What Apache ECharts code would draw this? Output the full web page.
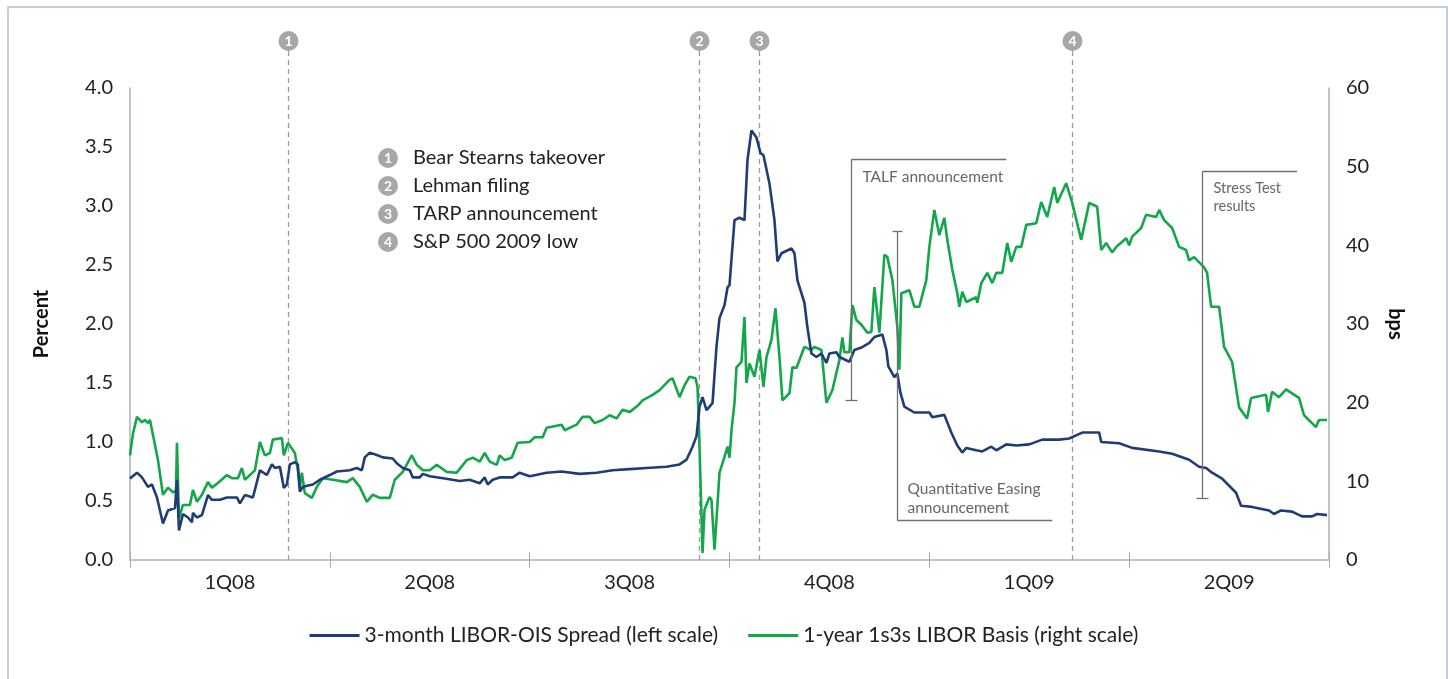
<!DOCTYPE html>
<html>
<head>
<meta charset="utf-8">
<script src="https://cdn.jsdelivr.net/npm/echarts@6/dist/echarts.min.js"></script>
<style>
  html, body { margin: 0; padding: 0; background: #fff; }
  #main { width: 1448px; height: 679px; }
</style>
</head>
<body>
<div id="main"></div>
<script>
// quarters shown on the x axis
const quarters = ['1Q08', '2Q08', '3Q08', '4Q08', '1Q09', '2Q09'];

// time is counted in quarters since 1 Jan 2008 (0 = start of 1Q08, 6 = end of 2Q09)
const tSpread = [0, .035, .06, .09, .11, .135, .165, .19, .225, .235, .245, .265, .29, .31, .315, .335, .36, .39, .41, .45,
  .485, .535, .55, .575, .615, .65, .685, .71, .725, .75, .77, .785, .8, .825, .84, .85, .865, .915, .95, 1.0,
  1.035, 1.1, 1.135, 1.16, 1.175, 1.2, 1.235, 1.265, 1.315, 1.335, 1.365, 1.4, 1.415, 1.45, 1.465, 1.5, 1.575, 1.65, 1.7, 1.75,
  1.775, 1.79, 1.815, 1.85, 1.915, 1.95, 2.0, 2.085, 2.16, 2.25, 2.335, 2.415, 2.5, 2.585, 2.685, 2.75, 2.785, 2.815, 2.835, 2.85,
  2.865, 2.885, 2.915, 2.935, 2.95, 2.975, 2.99, 3.0, 3.025, 3.05, 3.075, 3.09, 3.11, 3.135, 3.155, 3.17, 3.2, 3.225, 3.24, 3.26,
  3.31, 3.325, 3.34, 3.375, 3.39, 3.41, 3.435, 3.46, 3.485, 3.5, 3.535, 3.55, 3.6, 3.625, 3.66, 3.7, 3.725, 3.765, 3.785, 3.795,
  3.825, 3.84, 3.855, 3.875, 3.925, 4.0, 4.015, 4.075, 4.11, 4.14, 4.165, 4.185, 4.235, 4.265, 4.31, 4.335, 4.385, 4.435, 4.5, 4.565,
  4.65, 4.7, 4.765, 4.85, 4.86, 4.95, 5.015, 5.15, 5.215, 5.3, 5.35, 5.385, 5.415, 5.465, 5.535, 5.56, 5.615, 5.7, 5.725, 5.76,
  5.815, 5.865, 5.915, 5.94, 5.99];
// 3-month LIBOR-OIS spread, percent
const spread = [0.69, 0.74, 0.70, 0.62, 0.64, 0.53, 0.31, 0.42, 0.44, 0.68, 0.25, 0.39, 0.36, 0.32, 0.40, 0.36, 0.38, 0.55, 0.51, 0.51,
  0.53, 0.53, 0.48, 0.55, 0.53, 0.76, 0.72, 0.81, 0.78, 0.79, 0.61, 0.64, 0.81, 0.83, 0.81, 0.58, 0.62, 0.64, 0.68, 0.72,
  0.75, 0.76, 0.78, 0.76, 0.87, 0.91, 0.89, 0.87, 0.86, 0.82, 0.78, 0.76, 0.70, 0.70, 0.73, 0.71, 0.69, 0.67, 0.68, 0.65,
  0.70, 0.64, 0.68, 0.70, 0.70, 0.74, 0.71, 0.74, 0.75, 0.73, 0.74, 0.76, 0.77, 0.78, 0.79, 0.81, 0.85, 0.96, 1.05, 1.30,
  1.38, 1.27, 1.33, 1.81, 2.05, 2.16, 2.31, 2.33, 2.88, 2.90, 2.88, 3.39, 3.64, 3.58, 3.45, 3.43, 3.19, 2.88, 2.53, 2.60,
  2.64, 2.60, 2.37, 2.18, 1.97, 1.75, 1.72, 1.75, 1.67, 1.75, 1.76, 1.72, 1.68, 1.78, 1.80, 1.84, 1.89, 1.91, 1.78, 1.64,
  1.55, 1.58, 1.42, 1.30, 1.25, 1.25, 1.21, 1.23, 1.08, 0.97, 0.91, 0.95, 0.93, 0.92, 0.96, 0.93, 0.98, 0.97, 0.98, 1.02,
  1.02, 1.03, 1.08, 1.08, 1.00, 0.99, 0.95, 0.92, 0.90, 0.85, 0.79, 0.78, 0.74, 0.69, 0.57, 0.46, 0.45, 0.42, 0.39, 0.42,
  0.41, 0.37, 0.37, 0.39, 0.38];

const tBasis = [0, .015, .035, .06, .075, .09, .1, .14, .165, .19, .215, .23, .235, .245, .265, .3, .315, .335, .36, .39,
  .41, .44, .485, .51, .54, .56, .575, .625, .65, .675, .7, .715, .76, .77, .79, .825, .84, .85, .86, .875,
  .91, .935, .965, 1.015, 1.085, 1.115, 1.15, 1.185, 1.215, 1.25, 1.3, 1.325, 1.365, 1.41, 1.435, 1.465, 1.5, 1.535, 1.585, 1.635,
  1.685, 1.715, 1.75, 1.775, 1.8, 1.835, 1.85, 1.875, 1.91, 1.94, 2.0, 2.025, 2.065, 2.085, 2.16, 2.175, 2.235, 2.265, 2.3, 2.325,
  2.365, 2.4, 2.435, 2.465, 2.5, 2.54, 2.565, 2.615, 2.65, 2.7, 2.715, 2.75, 2.775, 2.8, 2.83, 2.84, 2.85, 2.865, 2.875, 2.9,
  2.91, 2.925, 2.95, 2.975, 2.99, 3.0, 3.01, 3.025, 3.035, 3.06, 3.075, 3.085, 3.1, 3.125, 3.15, 3.17, 3.185, 3.21, 3.23, 3.25,
  3.265, 3.3, 3.315, 3.335, 3.375, 3.385, 3.41, 3.425, 3.46, 3.485, 3.515, 3.535, 3.55, 3.565, 3.575, 3.6, 3.615, 3.635, 3.66, 3.69,
  3.71, 3.725, 3.75, 3.775, 3.79, 3.815, 3.84, 3.85, 3.86, 3.9, 3.925, 3.95, 3.985, 4.0, 4.025, 4.05, 4.075, 4.09, 4.115, 4.14,
  4.15, 4.165, 4.185, 4.235, 4.24, 4.26, 4.29, 4.315, 4.335, 4.365, 4.39, 4.41, 4.435, 4.46, 4.485, 4.535, 4.56, 4.59, 4.625, 4.64,
  4.685, 4.715, 4.76, 4.8, 4.84, 4.86, 4.885, 4.915, 4.935, 4.985, 5.0, 5.015, 5.06, 5.085, 5.135, 5.15, 5.175, 5.215, 5.25, 5.285,
  5.3, 5.325, 5.375, 5.39, 5.41, 5.45, 5.475, 5.515, 5.55, 5.59, 5.61, 5.685, 5.695, 5.715, 5.75, 5.785, 5.85, 5.875, 5.935, 5.95,
  5.99];
// 1-year 1s3s LIBOR basis, bps
const basis = [13.3, 16.1, 18.2, 17.5, 17.8, 17.4, 17.8, 12.7, 8.3, 9.2, 8.6, 8.8, 14.9, 5.3, 7.0, 7.0, 8.9, 7.4, 8.3, 9.9,
  9.2, 9.8, 10.8, 10.4, 10.4, 11.7, 10.2, 11.4, 15.0, 13.3, 13.6, 15.3, 15.5, 13.3, 14.9, 13.6, 11.4, 9.2, 11.1, 8.5,
  7.9, 9.3, 10.4, 10.2, 9.9, 10.4, 9.3, 7.4, 8.3, 7.9, 7.9, 10.2, 11.2, 13.3, 12.1, 11.4, 11.4, 12.1, 11.2, 11.1,
  12.7, 13.0, 12.5, 13.6, 12.5, 12.1, 13.3, 12.7, 13.0, 14.9, 15.0, 15.6, 15.6, 16.8, 17.2, 16.5, 17.2, 18.2, 18.2, 17.4,
  17.8, 18.4, 18.0, 19.1, 18.8, 19.6, 20.3, 21.0, 21.6, 22.9, 23.1, 20.7, 22.2, 23.3, 23.1, 22.0, 14.4, 0.9, 6.4, 8.0,
  7.6, 1.3, 11.1, 13.1, 14.4, 13.0, 16.5, 20.0, 24.5, 25.2, 30.9, 22.5, 25.0, 23.3, 26.7, 22.0, 25.8, 28.0, 32.0, 25.8,
  20.3, 21.2, 24.5, 24.4, 27.1, 27.3, 26.7, 27.1, 26.7, 20.0, 21.6, 23.8, 25.4, 28.3, 26.4, 26.4, 32.4, 30.5, 29.9, 28.9,
  29.0, 34.7, 28.9, 38.8, 38.5, 35.6, 29.6, 24.2, 33.9, 34.3, 32.2, 32.2, 35.6, 39.8, 44.5, 41.3, 43.5, 40.7, 36.9, 33.9,
  32.2, 34.1, 32.8, 33.4, 32.7, 35.2, 36.5, 35.2, 36.5, 36.5, 40.3, 37.9, 39.8, 39.8, 42.6, 42.8, 45.5, 43.6, 47.4, 45.4,
  47.9, 45.4, 40.7, 45.4, 44.9, 39.4, 40.3, 39.1, 39.8, 40.9, 40.0, 41.1, 42.2, 43.9, 43.6, 44.5, 43.2, 42.2, 39.8, 39.4,
  38.1, 38.5, 37.2, 36.5, 32.2, 32.2, 27.1, 25.2, 19.4, 18.0, 20.6, 21.0, 18.8, 21.4, 20.7, 21.7, 20.6, 18.4, 16.9, 17.8,
  17.8];

// numbered events (time in quarters)
const eventT = [0.79, 2.845, 3.15, 4.715];
const eventNames = ['Bear Stearns takeover', 'Lehman filing', 'TARP announcement', 'S&P 500 2009 low'];

// bracket annotations: x, top (percent), bottom (percent), end of the horizontal rule
const notes = [
  { text: ['TALF announcement'], t: 3.61, top: 3.40, bottom: 1.36, tEnd: 4.385, rule: 'top', size: 15.5 },
  { text: ['Quantitative Easing', 'announcement'], t: 3.84, top: 2.79, bottom: 0.34, tEnd: 4.615, rule: 'bottom', size: 15.5 },
  { text: ['Stress Test', 'results'], t: 5.365, top: 3.30, bottom: 0.525, tEnd: 5.84, rule: 'top', size: 14.5 }
];

const FONT = 'Lato';
const AXIS = '#a9b1bd';

const chart = echarts.init(document.getElementById('main'));

const option = {
  backgroundColor: '#fff',
  animation: false,
  textStyle: { fontFamily: FONT },
  grid: { left: 130, right: 119, top: 88, bottom: 119 },
  legend: {
    top: 620,
    left: 'center',
    icon: 'rect',
    itemWidth: 50,
    itemHeight: 3,
    itemGap: 30,
    textStyle: { fontSize: 21, color: '#222', fontFamily: FONT },
    data: ['3-month LIBOR-OIS Spread (left scale)', '1-year 1s3s LIBOR Basis (right scale)']
  },
  xAxis: [
    {
      type: 'category',
      data: quarters,
      boundaryGap: true,
      axisLine: { lineStyle: { color: AXIS, width: 1.5 } },
      axisTick: { show: true, length: 8, lineStyle: { color: AXIS } },
      axisLabel: { fontSize: 20, color: '#222', margin: 13, fontFamily: FONT },
      splitLine: { show: false }
    },
    {
      // hidden time axis that carries the lines, also draws the inner half of the ticks
      type: 'value',
      min: 0,
      max: 6,
      interval: 1,
      position: 'bottom',
      axisLine: { show: false },
      axisTick: { show: true, inside: true, length: 8, lineStyle: { color: AXIS } },
      axisLabel: { show: false },
      splitLine: { show: false }
    }
  ],
  yAxis: [
    {
      type: 'value',
      min: 0,
      max: 4,
      interval: 0.5,
      name: 'Percent',
      nameLocation: 'middle',
      nameRotate: 90,
      nameGap: 78,
      nameTextStyle: { fontSize: 20, fontWeight: 'bold', color: '#111', fontFamily: FONT },
      axisLine: { show: true, lineStyle: { color: AXIS, width: 1.5 } },
      axisTick: { show: false },
      axisLabel: { fontSize: 20, color: '#222', margin: 17, fontFamily: FONT, formatter: v => v.toFixed(1) },
      splitLine: { show: false }
    },
    {
      type: 'value',
      min: 0,
      max: 60,
      interval: 10,
      position: 'right',
      name: 'bps',
      nameLocation: 'middle',
      nameRotate: -90,
      nameGap: 56,
      nameTextStyle: { fontSize: 20, fontWeight: 'bold', color: '#111', fontFamily: FONT },
      axisLine: { show: true, lineStyle: { color: AXIS, width: 1.5 } },
      axisTick: { show: false },
      axisLabel: { fontSize: 20, color: '#222', margin: 17, fontFamily: FONT },
      splitLine: { show: false }
    }
  ],
  series: [
    {
      name: '3-month LIBOR-OIS Spread (left scale)',
      type: 'line',
      xAxisIndex: 1,
      yAxisIndex: 0,
      showSymbol: false,
      color: '#1f3c78',
      lineStyle: { width: 2.6, color: '#1f3c78' },
      data: tSpread.map((t, i) => [t, spread[i]]),
      z: 3
    },
    {
      name: '1-year 1s3s LIBOR Basis (right scale)',
      type: 'line',
      xAxisIndex: 1,
      yAxisIndex: 1,
      showSymbol: false,
      color: '#14a64a',
      lineStyle: { width: 2.6, color: '#14a64a' },
      data: tBasis.map((t, i) => [t, basis[i]]),
      z: 2
    }
  ]
};

chart.setOption(option);

// overlay: frame, event markers, key and bracket notes, placed from data values
const xPx = t => chart.convertToPixel({ xAxisIndex: 1 }, t);
const yPx = v => chart.convertToPixel({ yAxisIndex: 0 }, v);
const g = [];
const y0 = yPx(0);
const yTop = yPx(4);

g.push({ type: 'rect', shape: { x: 8, y: 7, width: 1439, height: 700 }, style: { fill: 'none', stroke: '#b4bcc7', lineWidth: 1.5 }, z: 0 });

eventT.forEach((t, i) => {
  const x = Math.round(xPx(t)) + 0.5;
  const cy = yTop - 47;
  g.push({ type: 'line', shape: { x1: x, y1: cy + 10, x2: x, y2: y0 }, style: { stroke: '#9b9b9b', lineWidth: 1.3, lineDash: [5, 4] }, z: 1 });
  g.push({ type: 'circle', shape: { cx: x, cy: cy, r: 10 }, style: { fill: '#a7a7a7' }, z: 5 });
  g.push({ type: 'text', x: x, y: cy, style: { text: String(i + 1), fill: '#fff', font: 'bold 14px ' + FONT, textAlign: 'center', textVerticalAlign: 'middle' }, z: 6 });
});

eventNames.forEach((name, i) => {
  const cx = 388, cy = 158 + i * 28;
  g.push({ type: 'circle', shape: { cx: cx, cy: cy, r: 10 }, style: { fill: '#a7a7a7' }, z: 5 });
  g.push({ type: 'text', x: cx, y: cy, style: { text: String(i + 1), fill: '#fff', font: 'bold 14px ' + FONT, textAlign: 'center', textVerticalAlign: 'middle' }, z: 6 });
  g.push({ type: 'text', x: 413, y: cy, style: { text: name, fill: '#222', font: '20px ' + FONT, textVerticalAlign: 'middle' }, z: 6 });
});

notes.forEach(n => {
  const x = Math.round(xPx(n.t)) + 0.5;
  const x2 = xPx(n.tEnd);
  const yt = Math.round(yPx(n.top)) + 0.5;
  const yb = Math.round(yPx(n.bottom)) + 0.5;
  const st = { stroke: '#707070', lineWidth: 1.3 };
  g.push({ type: 'line', shape: { x1: x, y1: yt, x2: x, y2: yb }, style: st, z: 4 });
  if (n.rule === 'top') {
    g.push({ type: 'line', shape: { x1: x, y1: yt, x2: x2, y2: yt }, style: st, z: 4 });
    g.push({ type: 'line', shape: { x1: x - 6, y1: yb, x2: x + 6, y2: yb }, style: st, z: 4 });
    n.text.forEach((s, k) => {
      g.push({ type: 'text', x: x + 11, y: yt + 17 + k * 18, style: { text: s, fill: '#666', font: n.size + 'px ' + FONT, textVerticalAlign: 'middle' }, z: 6 });
    });
  } else {
    g.push({ type: 'line', shape: { x1: x, y1: yb, x2: x2, y2: yb }, style: st, z: 4 });
    g.push({ type: 'line', shape: { x1: x - 5, y1: yt, x2: x + 5, y2: yt }, style: st, z: 4 });
    n.text.forEach((s, k) => {
      g.push({ type: 'text', x: x + 10, y: yb - 32 + k * 19, style: { text: s, fill: '#666', font: n.size + 'px ' + FONT, textVerticalAlign: 'middle' }, z: 6 });
    });
  }
});

chart.setOption({ graphic: g });
</script>
</body>
</html>
